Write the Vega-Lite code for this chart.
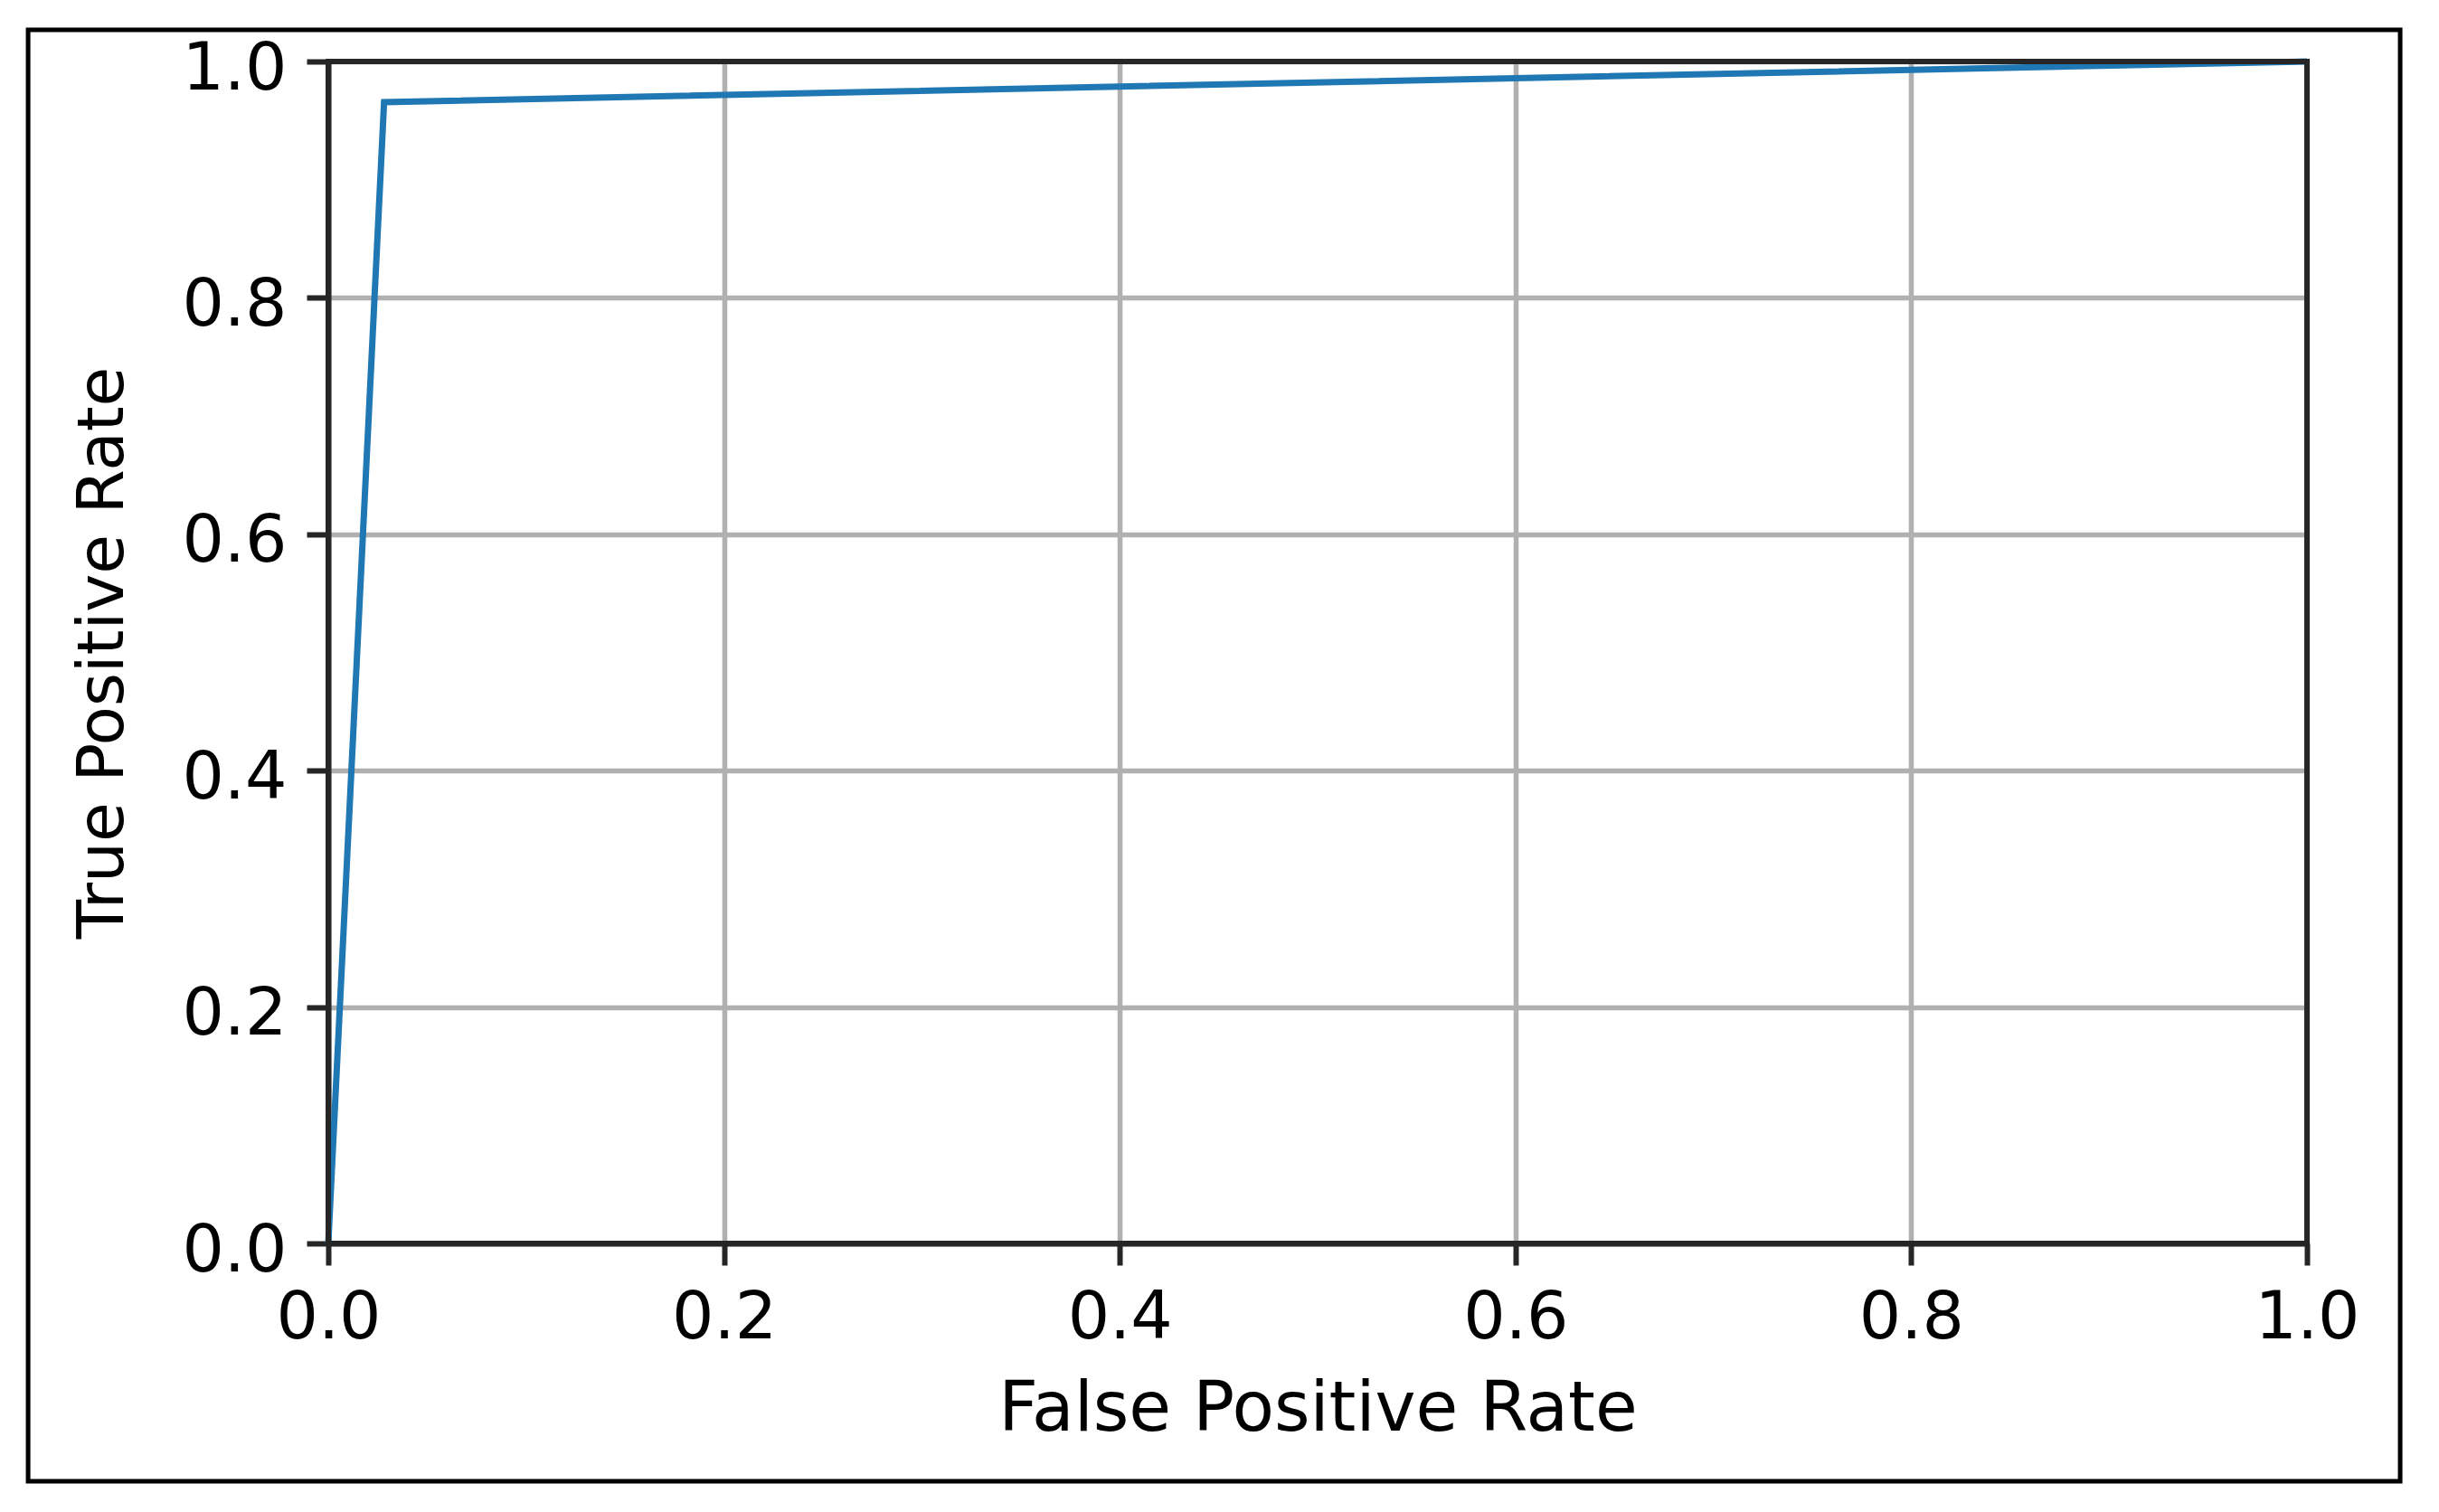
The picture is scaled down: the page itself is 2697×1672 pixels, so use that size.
{
  "$schema": "https://vega.github.io/schema/vega-lite/v6.json",
  "width": 2188,
  "height": 1307,
  "autosize": {"type": "none"},
  "padding": {"left": 363, "top": 68, "right": 146, "bottom": 297},
  "background": "white",
  "config": {
    "font": "DejaVu Sans",
    "view": {"stroke": null},
    "axis": {
      "labelFont": "DejaVu Sans",
      "titleFont": "DejaVu Sans",
      "labelFontSize": 73,
      "labelColor": "#000000",
      "titleColor": "#000000",
      "titleFontWeight": "normal",
      "domainColor": "#262626",
      "domainWidth": 6,
      "tickColor": "#262626",
      "tickWidth": 6,
      "tickSize": 24,
      "gridColor": "#b0b0b0",
      "gridWidth": 5.5,
      "gridOpacity": 1
    }
  },
  "layer": [
    {
      "data": {"values": [
        {"fpr": 0.0, "tpr": 0.0},
        {"fpr": 0.0282, "tpr": 0.9656},
        {"fpr": 1.0, "tpr": 1.0}
      ]},
      "mark": {"type": "line", "color": "#1f77b4", "strokeWidth": 7, "clip": false},
      "encoding": {
        "x": {
          "field": "fpr", "type": "quantitative",
          "scale": {"domain": [0, 1], "nice": false, "zero": false},
          "axis": {
            "title": "False Positive Rate",
            "titleFontSize": 76,
            "values": [0, 0.2, 0.4, 0.6, 0.8, 1.0],
            "format": ".1f",
            "labelPadding": 22,
            "titlePadding": 27,
            "labelFlush": false,
            "labelOverlap": false
          }
        },
        "y": {
          "field": "tpr", "type": "quantitative",
          "scale": {"domain": [0, 1], "nice": false, "zero": false},
          "axis": {
            "title": "True Positive Rate",
            "titleFontSize": 71,
            "values": [0, 0.2, 0.4, 0.6, 0.8, 1.0],
            "format": ".1f",
            "labelPadding": 22,
            "labelOffset": 8,
            "titlePadding": 50,
            "labelFlush": false,
            "labelOverlap": false
          }
        }
      }
    },
    {
      "data": {"values": [{"frame": "spines"}]},
      "mark": {"type": "rect", "fill": null, "filled": false, "stroke": "#262626", "strokeWidth": 6, "clip": false},
      "encoding": {
        "x": {"datum": 0, "type": "quantitative"},
        "x2": {"datum": 1},
        "y": {"datum": 1, "type": "quantitative"},
        "y2": {"datum": 0}
      }
    },
    {
      "data": {"values": [{"frame": "border"}]},
      "mark": {"type": "rect", "fill": null, "filled": false, "stroke": "#000000", "strokeWidth": 5, "clip": false},
      "encoding": {
        "x": {"datum": -0.1517, "type": "quantitative"},
        "x2": {"datum": 1.0471},
        "y": {"datum": 1.0268, "type": "quantitative"},
        "y2": {"datum": -0.2012}
      }
    }
  ]
}
